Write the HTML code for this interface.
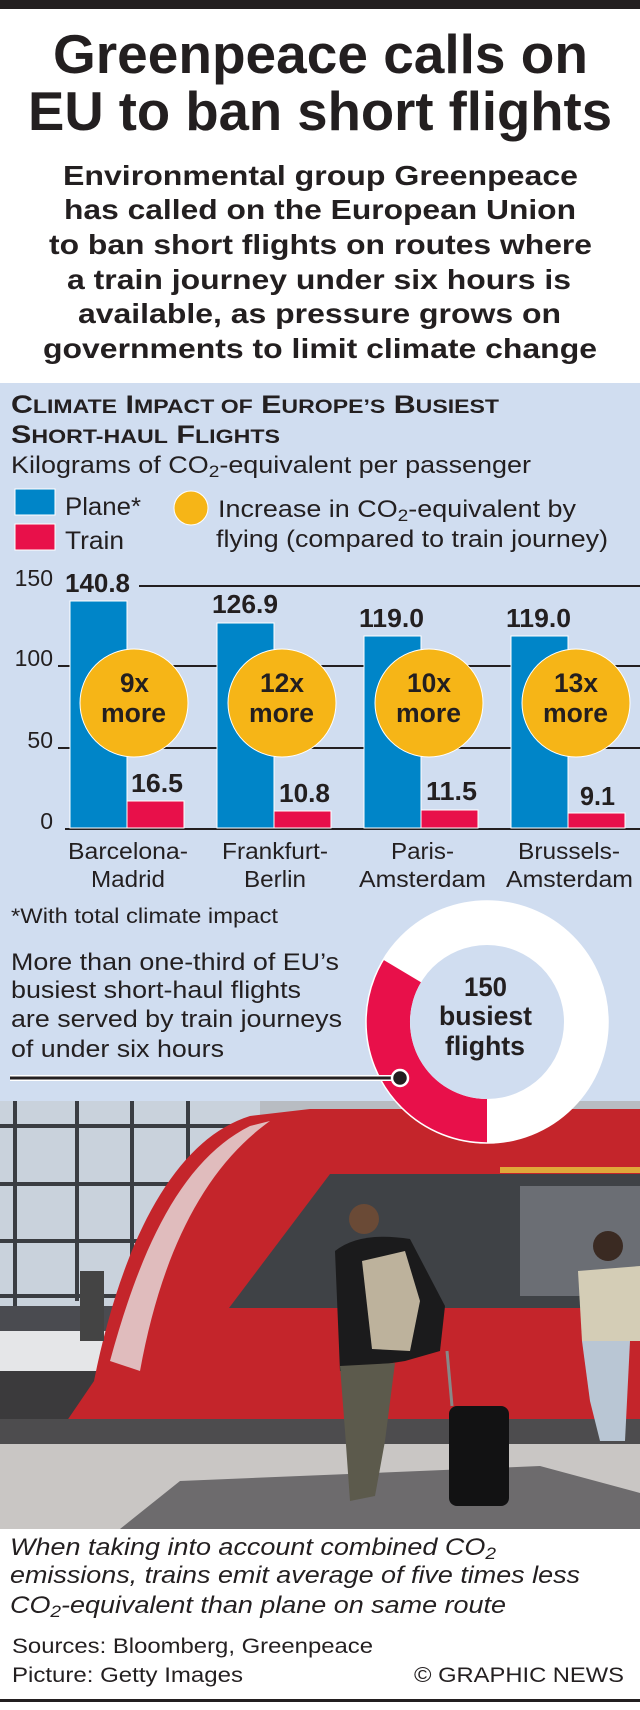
<!DOCTYPE html>
<html><head><meta charset="utf-8">
<style>
*{margin:0;padding:0;box-sizing:border-box}
body{width:640px;height:1710px;background:#fff;position:relative;overflow:hidden;font-family:"Liberation Sans",Arial,sans-serif;color:#231f20}
</style></head><body>
<svg style="position:absolute;left:0;top:0" width="640" height="1710" xmlns="http://www.w3.org/2000/svg" font-family="Liberation Sans, Arial, sans-serif" fill="#231f20">
<rect x="0" y="0" width="640" height="9" fill="#231f20"/>
<g font-weight="bold" font-size="55" lengthAdjust="spacingAndGlyphs">
<text x="53" y="73" textLength="535" lengthAdjust="spacingAndGlyphs">Greenpeace calls on</text>
<text x="28" y="130" textLength="584" lengthAdjust="spacingAndGlyphs">EU to ban short flights</text>
</g>
<g font-weight="bold" font-size="28">
<text x="63" y="185" textLength="515" lengthAdjust="spacingAndGlyphs">Environmental group Greenpeace</text>
<text x="64" y="219" textLength="512" lengthAdjust="spacingAndGlyphs">has called on the European Union</text>
<text x="49" y="254" textLength="543" lengthAdjust="spacingAndGlyphs">to ban short flights on routes where</text>
<text x="67" y="289" textLength="504" lengthAdjust="spacingAndGlyphs">a train journey under six hours is</text>
<text x="78" y="323" textLength="483" lengthAdjust="spacingAndGlyphs">available, as pressure grows on</text>
<text x="43" y="358" textLength="554" lengthAdjust="spacingAndGlyphs">governments to limit climate change</text>
</g>

<rect x="0" y="383" width="640" height="720" fill="#d0ddf0"/>
<text x="11" y="413" font-size="25" font-weight="bold" textLength="488" lengthAdjust="spacingAndGlyphs">C<tspan font-size="19">LIMATE</tspan> I<tspan font-size="19">MPACT OF</tspan> E<tspan font-size="19">UROPE’S</tspan> B<tspan font-size="19">USIEST</tspan></text>
<text x="11" y="443" font-size="25" font-weight="bold" textLength="269" lengthAdjust="spacingAndGlyphs">S<tspan font-size="19">HORT-HAUL</tspan> F<tspan font-size="19">LIGHTS</tspan></text>
<text x="11" y="473" font-size="24" textLength="520" lengthAdjust="spacingAndGlyphs">Kilograms of CO<tspan font-size="17" dy="4">2</tspan><tspan dy="-4">-equivalent per passenger</tspan></text>
<rect x="15" y="489" width="40" height="26" fill="#0085c8" stroke="#fff" stroke-width="1"/>
<rect x="15" y="524" width="40" height="26" fill="#e8104a" stroke="#fff" stroke-width="1"/>
<text x="65" y="515" font-size="25" textLength="76" lengthAdjust="spacingAndGlyphs">Plane*</text>
<text x="65" y="549" font-size="25" textLength="59" lengthAdjust="spacingAndGlyphs">Train</text>
<circle cx="191" cy="508" r="17" fill="#f6b517" stroke="#fff"/>
<text x="218" y="517" font-size="24" textLength="358" lengthAdjust="spacingAndGlyphs">Increase in CO<tspan font-size="17" dy="4">2</tspan><tspan dy="-4">-equivalent by</tspan></text>
<text x="216" y="547" font-size="24" textLength="392" lengthAdjust="spacingAndGlyphs">flying (compared to train journey)</text>
<g stroke="#231f20" stroke-width="2">
<line x1="139" y1="586" x2="640" y2="586"/>
<line x1="58" y1="666" x2="640" y2="666"/>
<line x1="58" y1="748" x2="640" y2="748"/>
<line x1="65" y1="829" x2="640" y2="829"/>
</g>
<g font-size="23" text-anchor="end">
<text x="53" y="586">150</text><text x="53" y="666">100</text><text x="53" y="748">50</text><text x="53" y="829">0</text>
</g>
<g fill="#0085c8" stroke="#fff" stroke-width="1">
<rect x="70" y="601" width="57" height="227"/>
<rect x="217" y="623" width="57" height="205"/>
<rect x="364" y="636" width="57" height="192"/>
<rect x="511" y="636" width="57" height="192"/>
</g>
<g fill="#e8104a" stroke="#fff" stroke-width="1">
<rect x="127" y="801" width="57" height="27"/>
<rect x="274" y="811" width="57" height="17"/>
<rect x="421" y="810" width="57" height="18"/>
<rect x="568" y="813" width="57" height="15"/>
</g>
<g font-size="26" font-weight="bold">
<text x="65" y="592" textLength="65" lengthAdjust="spacingAndGlyphs">140.8</text>
<text x="212" y="613" textLength="66" lengthAdjust="spacingAndGlyphs">126.9</text>
<text x="359" y="627" textLength="65" lengthAdjust="spacingAndGlyphs">119.0</text>
<text x="506" y="627" textLength="65" lengthAdjust="spacingAndGlyphs">119.0</text>
<text x="131" y="792" textLength="52" lengthAdjust="spacingAndGlyphs">16.5</text>
<text x="279" y="802" textLength="51" lengthAdjust="spacingAndGlyphs">10.8</text>
<text x="426" y="800" textLength="51" lengthAdjust="spacingAndGlyphs">11.5</text>
<text x="580" y="805" textLength="35" lengthAdjust="spacingAndGlyphs">9.1</text>
</g>
<g fill="#f6b517" stroke="#fff" stroke-width="1">
<circle cx="134" cy="703" r="54"/><circle cx="282" cy="703" r="54"/><circle cx="429" cy="703" r="54"/><circle cx="576" cy="703" r="54"/>
</g>
<g font-size="27" font-weight="bold">
<text x="120" y="692" textLength="29" lengthAdjust="spacingAndGlyphs">9x</text><text x="101" y="722" textLength="65" lengthAdjust="spacingAndGlyphs">more</text>
<text x="260" y="692" textLength="44" lengthAdjust="spacingAndGlyphs">12x</text><text x="249" y="722" textLength="65" lengthAdjust="spacingAndGlyphs">more</text>
<text x="407" y="692" textLength="44" lengthAdjust="spacingAndGlyphs">10x</text><text x="396" y="722" textLength="65" lengthAdjust="spacingAndGlyphs">more</text>
<text x="554" y="692" textLength="44" lengthAdjust="spacingAndGlyphs">13x</text><text x="543" y="722" textLength="65" lengthAdjust="spacingAndGlyphs">more</text>
</g>
<g font-size="23">
<text x="68" y="859" textLength="120" lengthAdjust="spacingAndGlyphs">Barcelona-</text><text x="91" y="887" textLength="74" lengthAdjust="spacingAndGlyphs">Madrid</text>
<text x="222" y="859" textLength="106" lengthAdjust="spacingAndGlyphs">Frankfurt-</text><text x="244" y="887" textLength="62" lengthAdjust="spacingAndGlyphs">Berlin</text>
<text x="391" y="859" textLength="63" lengthAdjust="spacingAndGlyphs">Paris-</text><text x="359" y="887" textLength="127" lengthAdjust="spacingAndGlyphs">Amsterdam</text>
<text x="518" y="859" textLength="102" lengthAdjust="spacingAndGlyphs">Brussels-</text><text x="506" y="887" textLength="127" lengthAdjust="spacingAndGlyphs">Amsterdam</text>
</g>
<text x="11" y="923" font-size="21" textLength="267" lengthAdjust="spacingAndGlyphs">*With total climate impact</text>
<g font-size="24">
<text x="11" y="970" textLength="328" lengthAdjust="spacingAndGlyphs">More than one-third of EU’s</text>
<text x="11" y="998" textLength="290" lengthAdjust="spacingAndGlyphs">busiest short-haul flights</text>
<text x="11" y="1027" textLength="331" lengthAdjust="spacingAndGlyphs">are served by train journeys</text>
<text x="11" y="1057" textLength="213" lengthAdjust="spacingAndGlyphs">of under six hours</text>
</g>

<g transform="translate(0,1101)">
<rect width="640" height="428" fill="#b8bcc2"/>
<rect x="0" y="0" width="260" height="240" fill="#c9d2dc"/>
<g stroke="#3a3d42" stroke-width="4">
<line x1="15" y1="0" x2="15" y2="230"/><line x1="77" y1="0" x2="77" y2="200"/><line x1="132" y1="0" x2="132" y2="200"/><line x1="188" y1="0" x2="188" y2="200"/>
<line x1="0" y1="25" x2="240" y2="25"/><line x1="0" y1="83" x2="200" y2="83"/><line x1="0" y1="140" x2="200" y2="140"/><line x1="0" y1="195" x2="200" y2="195"/>
</g>
<rect x="0" y="205" width="250" height="25" fill="#4a4b50"/>
<rect x="0" y="230" width="200" height="40" fill="#e5e6e8"/>
<rect x="0" y="270" width="120" height="60" fill="#3b3a3c"/>
<path d="M94 280 C120 150 170 40 250 15 L310 8 L640 8 L640 320 L60 330 Z" fill="#c4252b"/>
<path d="M110 260 C140 150 180 60 250 25 L270 20 C200 70 160 160 140 270 Z" fill="#e7e2e2" opacity="0.8"/>
<rect x="500" y="66" width="140" height="6" fill="#e0a83a"/>
<path d="M229 207 L330 73 L640 73 L640 207 Z" fill="#3f4246"/>
<rect x="520" y="85" width="120" height="110" fill="#6b6e74"/>
<rect x="0" y="318" width="640" height="25" fill="#4d4c4e"/>
<rect x="0" y="343" width="640" height="85" fill="#c9c6c4"/>
<path d="M120 428 L180 380 L540 365 L640 392 L640 428 Z" fill="#6d6b6d"/>
<circle cx="364" cy="118" r="15" fill="#6a4a36"/>
<path d="M335 150 Q360 130 410 138 L445 205 L440 250 L405 260 L340 270 Z" fill="#1b1b1c"/>
<path d="M362 160 L405 150 L420 200 L410 250 L372 248 Z" fill="#bdb29c"/>
<path d="M340 265 L395 262 L385 340 L375 395 L350 400 L345 330 Z" fill="#5c5a4c"/>
<rect x="449" y="305" width="60" height="100" rx="8" fill="#121213"/>
<line x1="447" y1="250" x2="452" y2="305" stroke="#888" stroke-width="3"/>
<circle cx="608" cy="145" r="15" fill="#3a2a22"/>
<path d="M578 170 L640 165 L640 240 L582 240 Z" fill="#d4cdb6"/>
<path d="M582 240 L630 240 L625 340 L600 340 L590 300 Z" fill="#b9c6d4"/>
<rect x="80" y="170" width="24" height="70" fill="#444"/>
</g>

<circle cx="487" cy="1022" r="121" fill="#fff"/>
<path d="M487 1143 A121 121 0 0 1 383.3 959.7 L421 982.3 A77 77 0 0 0 487 1099 Z" fill="#e8104a"/>
<circle cx="487" cy="1022" r="121" fill="none" stroke="#fff" stroke-width="1.5"/>
<circle cx="487" cy="1022" r="77" fill="#d0ddf0"/>
<g font-size="27" font-weight="bold">
<text x="464" y="996" textLength="43" lengthAdjust="spacingAndGlyphs">150</text>
<text x="439" y="1025" textLength="93" lengthAdjust="spacingAndGlyphs">busiest</text>
<text x="445" y="1055" textLength="80" lengthAdjust="spacingAndGlyphs">flights</text>
</g>
<line x1="10" y1="1078" x2="400" y2="1078" stroke="#fff" stroke-width="6"/>
<line x1="10" y1="1078" x2="400" y2="1078" stroke="#231f20" stroke-width="3"/>
<circle cx="400" cy="1078" r="8" fill="#231f20" stroke="#fff" stroke-width="2.5"/>

<g font-size="24" font-style="italic">
<text x="10" y="1555" textLength="486" lengthAdjust="spacingAndGlyphs">When taking into account combined CO<tspan font-size="17" dy="4">2</tspan></text>
<text x="10" y="1583" textLength="570" lengthAdjust="spacingAndGlyphs">emissions, trains emit average of five times less</text>
<text x="10" y="1613" textLength="496" lengthAdjust="spacingAndGlyphs">CO<tspan font-size="17" dy="4">2</tspan><tspan dy="-4">-equivalent than plane on same route</tspan></text>
</g>
<text x="12" y="1653" font-size="21" textLength="361" lengthAdjust="spacingAndGlyphs">Sources: Bloomberg, Greenpeace</text>
<text x="12" y="1682" font-size="21" textLength="231" lengthAdjust="spacingAndGlyphs">Picture: Getty Images</text>
<text x="414" y="1682" font-size="21" textLength="210" lengthAdjust="spacingAndGlyphs">© GRAPHIC NEWS</text>
<rect x="0" y="1699" width="640" height="3" fill="#231f20"/>
</svg>
</body></html>
